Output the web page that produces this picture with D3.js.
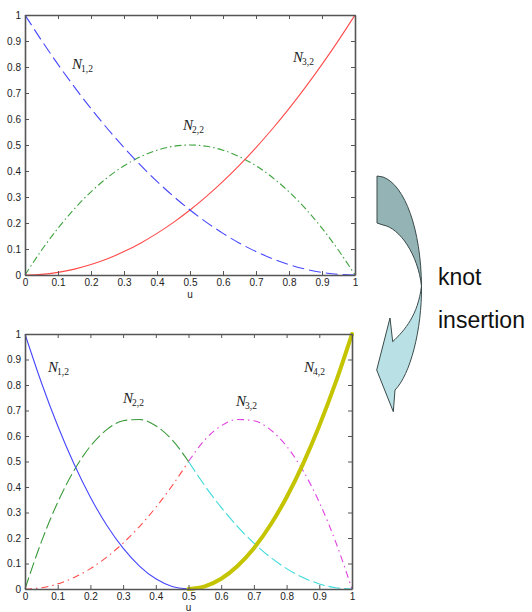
<!DOCTYPE html>
<html><head><meta charset="utf-8">
<script src="https://cdn.jsdelivr.net/npm/d3@7"></script>
<style>body{margin:0;background:#fff}svg{display:block}</style>
</head><body>
<svg id="c" width="532" height="612"></svg>
<script>
// ---- data ----
const uFull = [0,0.05,0.1,0.15,0.2,0.25,0.3,0.35,0.4,0.45,0.5,0.55,0.6,0.65,0.7,0.75,0.8,0.85,0.9,0.95,1];
const topN12 = [1,0.9025,0.81,0.7225,0.64,0.5625,0.49,0.4225,0.36,0.3025,0.25,0.2025,0.16,0.1225,0.09,0.0625,0.04,0.0225,0.01,0.0025,0];
const topN22 = [0,0.095,0.18,0.255,0.32,0.375,0.42,0.455,0.48,0.495,0.5,0.495,0.48,0.455,0.42,0.375,0.32,0.255,0.18,0.095,0];
const topN32 = [0,0.0025,0.01,0.0225,0.04,0.0625,0.09,0.1225,0.16,0.2025,0.25,0.3025,0.36,0.4225,0.49,0.5625,0.64,0.7225,0.81,0.9025,1];

const uLeft  = [0,0.05,0.1,0.15,0.2,0.25,0.3,0.35,0.4,0.45,0.5];
const uRight = [0.5,0.55,0.6,0.65,0.7,0.75,0.8,0.85,0.9,0.95,1];
const botN12 = [1,0.81,0.64,0.49,0.36,0.25,0.16,0.09,0.04,0.01,0];
const botN22a = [0,0.185,0.34,0.465,0.56,0.625,0.66,0.665,0.64,0.585,0.5];
const botN22b = [0.5,0.405,0.32,0.245,0.18,0.125,0.08,0.045,0.02,0.005,0];
const botN32a = [0,0.005,0.02,0.045,0.08,0.125,0.18,0.245,0.32,0.405,0.5];
const botN32b = [0.5,0.585,0.64,0.665,0.66,0.625,0.56,0.465,0.34,0.185,0];
const botN42 = [0,0.01,0.04,0.09,0.16,0.25,0.36,0.49,0.64,0.81,1];

const xTicks = [0,0.1,0.2,0.3,0.4,0.5,0.6,0.7,0.8,0.9,1];
const yTicks = [0,0.1,0.2,0.3,0.4,0.5,0.6,0.7,0.8,0.9,1];
const tickFmt = d => d === 0 ? "0" : d === 1 ? "1" : String(d);

const svg = d3.select("#c");

function panel(box, series, labels, uLabelY) {
  const x = d3.scaleLinear().domain([0,1]).range([box.x0, box.x1]);
  const y = d3.scaleLinear().domain([0,1]).range([box.y1, box.y0]);
  const g = svg.append("g");
  const line = d3.line().x(d => x(d[0])).y(d => y(d[1])).curve(d3.curveMonotoneX);
  series.forEach(s => {
    g.append("path")
      .attr("d", line(s.u.map((u,i) => [u, s.v[i]])))
      .attr("fill","none").attr("stroke", s.color)
      .attr("stroke-width", s.w || 1.1)
      .attr("stroke-dasharray", s.dash || null)
      .attr("stroke-linecap", s.w ? "round" : "butt");
  });
  const ax = "#555";
  const bottom = g.append("g").attr("transform", `translate(0,${box.y1})`)
    .call(d3.axisBottom(x).tickValues(xTicks).tickFormat(tickFmt).tickSizeInner(-4).tickSizeOuter(0).tickPadding(4));
  const left = g.append("g").attr("transform", `translate(${box.x0},0)`)
    .call(d3.axisLeft(y).tickValues(yTicks).tickFormat(tickFmt).tickSizeInner(-4).tickSizeOuter(0).tickPadding(4));
  const topA = g.append("g").attr("transform", `translate(0,${box.y0})`)
    .call(d3.axisTop(x).tickValues(xTicks).tickFormat("").tickSizeInner(-4).tickSizeOuter(0));
  const rightA = g.append("g").attr("transform", `translate(${box.x1},0)`)
    .call(d3.axisRight(y).tickValues(yTicks).tickFormat("").tickSizeInner(-4).tickSizeOuter(0));
  [bottom,left,topA,rightA].forEach(a => {
    a.select(".domain").attr("stroke", ax).attr("stroke-width", 1.6);
    a.selectAll(".tick line").attr("stroke", ax).attr("stroke-width", 1);
    a.selectAll("text").attr("fill","#222").attr("font-family","Liberation Sans, Arial, sans-serif").attr("font-size", 10);
  });
  g.append("text").attr("x", (box.x0+box.x1)/2).attr("y", uLabelY)
    .attr("text-anchor","middle").attr("font-family","Liberation Sans, Arial, sans-serif")
    .attr("font-size",10).attr("fill","#222").text("u");
  labels.forEach(l => {
    const t = g.append("text").attr("x", l.x).attr("y", l.y)
      .attr("font-family","Liberation Serif, Times New Roman, serif").attr("fill","#222");
    t.append("tspan").attr("font-style","italic").attr("font-size",15).text("N");
    t.append("tspan").attr("font-size",9.5).attr("dy",3).attr("dx",-1).text(l.sub);
  });
}

panel({x0:25, x1:355, y0:15, y1:275}, [
  {u:uFull, v:topN22, color:"#3fa33f", dash:"7,3,1.5,3"},
  {u:uFull, v:topN32, color:"#ff4a4a"},
  {u:uFull, v:topN12, color:"#4646ff", dash:"12,5"}
], [
  {x:72, y:69, sub:"1,2"},
  {x:183, y:130, sub:"2,2"},
  {x:293, y:62, sub:"3,2"}
], 298);

panel({x0:25, x1:352, y0:334, y1:589}, [
  {u:uLeft, v:botN32a, color:"#ff4a4a", dash:"7,4,1.5,4"},
  {u:uRight, v:botN32b, color:"#e040e0", dash:"7,4,1.5,4"},
  {u:uRight, v:botN22b, color:"#3cdada", dash:"12,4"},
  {u:uLeft, v:botN22a, color:"#3a9a3a", dash:"12,4"},
  {u:uLeft, v:botN12, color:"#4646ff"},
  {u:uRight, v:botN42, color:"#c4c400", w:4}
], [
  {x:48, y:372, sub:"1,2"},
  {x:123, y:403, sub:"2,2"},
  {x:236, y:406, sub:"3,2"},
  {x:304, y:372, sub:"4,2"}
], 611);

// ---- curved arrow ----
svg.append("path")
  .attr("d","M377,176 L383,177 C405,185 421,230 421.5,286 C418,255 400,228 383,225 L377,223 Z")
  .attr("fill","#93b3b5").attr("stroke","#3a4a4a").attr("stroke-width",1);
svg.append("path")
  .attr("d","M421.5,286 C422,330 410,375 395,390 L393.3,411.7 L376.7,370 L390,318 L392.7,341.7 C405,330 418,315 421.5,286 Z")
  .attr("fill","#b9e1e5").attr("stroke","#3a4a4a").attr("stroke-width",1);

svg.append("text").attr("x",438).attr("y",285).attr("font-family","Liberation Sans, Arial, sans-serif")
  .attr("font-size",23).attr("fill","#111").text("knot");
svg.append("text").attr("x",438).attr("y",328).attr("font-family","Liberation Sans, Arial, sans-serif")
  .attr("font-size",23).attr("fill","#111").text("insertion");
</script>
</body></html>
